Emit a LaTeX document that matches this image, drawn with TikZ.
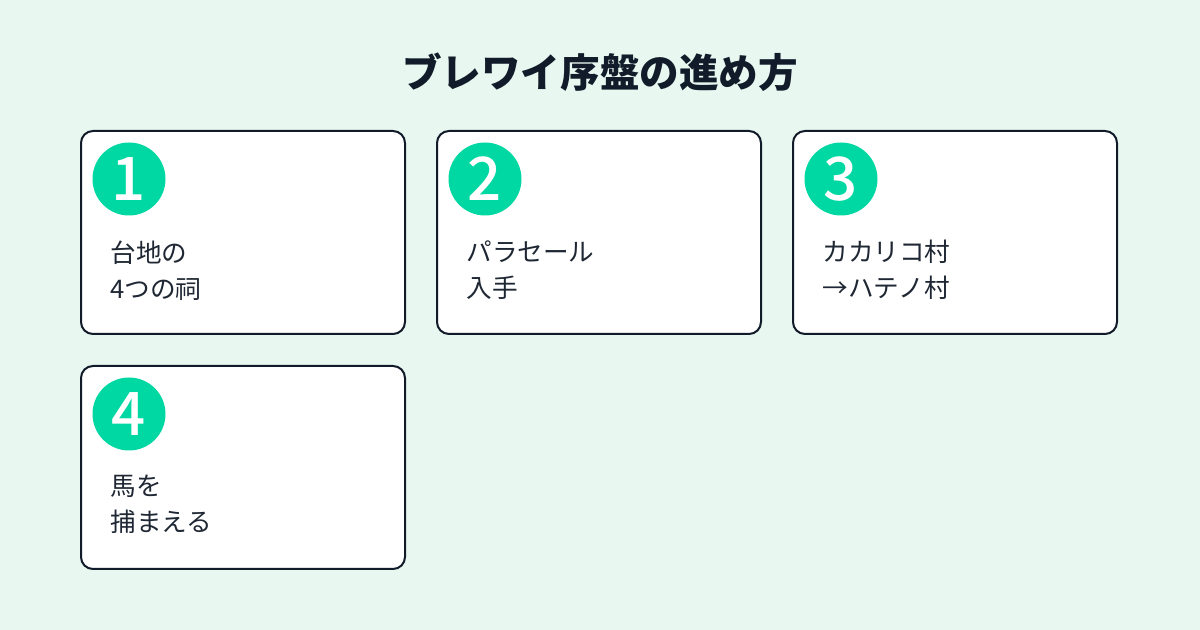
\documentclass[tikz,border=0pt]{standalone}
\usepackage{fontspec}
\setmainfont{Noto Sans CJK JP}
\newfontfamily\digitfont{Noto Sans CJK JP Medium}
\usetikzlibrary{positioning,calc}
\definecolor{Paper}{HTML}{E8F8F1}
\definecolor{Ink}{HTML}{111B29}
\definecolor{Mint}{HTML}{00D8A4}
\definecolor{Body}{HTML}{1E2733}
\tikzset{
  card/.style={rectangle,rounded corners=6pt,draw=Ink,line width=1pt,fill=white,minimum width=162pt,minimum height=101.5pt,inner sep=0pt},
  badge/.style={circle,fill=Mint,minimum size=36.5pt,inner sep=0pt,text=white,font=\digitfont\fontsize{30}{30}\selectfont},
  cardtext/.style={anchor=north west,inner sep=0pt,align=left,text=Body,font=\fontsize{12.8}{18}\selectfont},
  heading/.style={font=\fontsize{19.8}{20}\selectfont\bfseries,text=Ink}
}
\begin{document}
\begin{tikzpicture}[x=0.5pt,y=-0.5pt]
  \fill[Paper] (0,0) rectangle (1200,630);
  \useasboundingbox (0,0) rectangle (1200,630);
  \node[heading] (title) at (600,72) {ブレワイ序盤の進め方};
  % step cards
  \foreach \n/\cx/\cy/\txt in {1/243/232.5/{台地の\\4つの祠},2/599/232.5/{パラセール\\入手},3/955/232.5/{カカリコ村\\→ハテノ村},4/243/467.5/{馬を\\捕まえる}} {
    \node[card] (card\n) at (\cx,\cy) {};
    \node[badge] (badge\n) at ($(card\n.north west)+(49,49)$) {\n};
    \node[cardtext] (label\n) at ($(card\n.north west)+(30,110)$) {\txt};
  }
\end{tikzpicture}
\end{document}
